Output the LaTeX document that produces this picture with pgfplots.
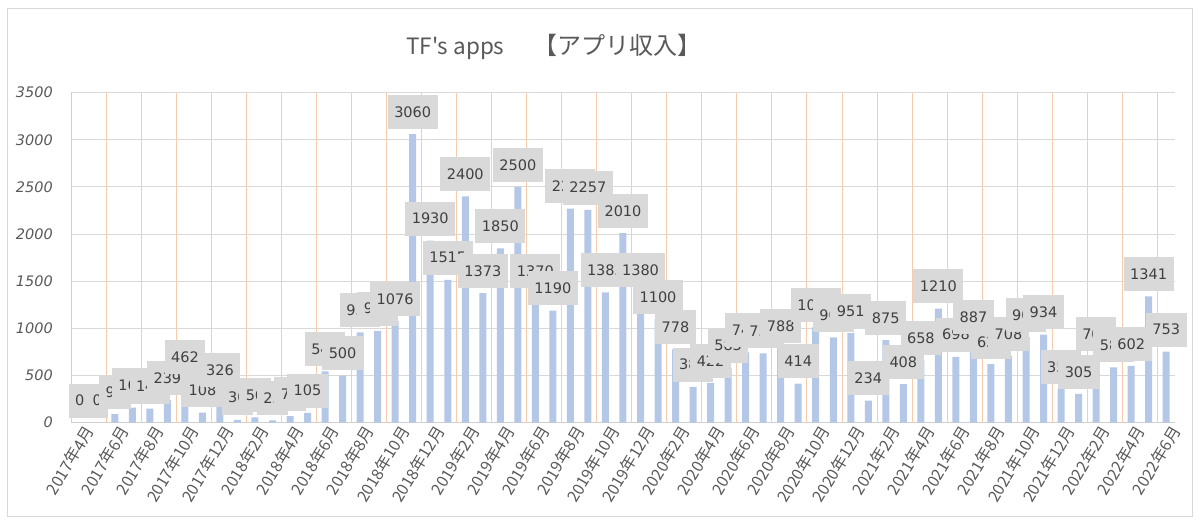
\documentclass[border=0pt]{standalone}
\usepackage{pgfplots}
\pgfplotsset{compat=1.18}
\usepackage{fontspec}
\newfontfamily\jp{Noto Sans CJK JP}
\newfontfamily\dv{DejaVu Sans}
\definecolor{barblue}{HTML}{B4C7E7}
\definecolor{labelgray}{HTML}{D9D9D9}
\definecolor{labeltext}{HTML}{404040}
\definecolor{gridgray}{HTML}{D9D9D9}
\definecolor{axisgray}{HTML}{D0D0D0}
\definecolor{orangeline}{HTML}{F8CBAD}
\definecolor{ticklabelgray}{HTML}{595959}
\definecolor{framegray}{HTML}{D9D9D9}
\pgfkeys{/pgf/number format/.cd,1000 sep={},assume math mode=true}
\begin{document}
\begin{tikzpicture}
\useasboundingbox (0,0) rectangle (1200bp,523bp);
\draw[color=framegray, line width=1bp] (7bp,6bp) rectangle (1192bp,514bp);
\node[anchor=west, inner sep=0pt, text=ticklabelgray, font=\jp\fontsize{22.5bp}{26bp}\selectfont] at (406bp,476bp) {TF's apps\hspace{29bp}{\fontsize{24bp}{28bp}\selectfont 【アプリ収入】}};
\begin{axis}[
  at={(71bp,100.3bp)}, anchor=south west,
  width=1104bp, height=330bp, scale only axis,
  clip=false,
  xmin=-0.5, xmax=62.5, ymin=0, ymax=3500,
  ytick={0,500,...,3500},
  ymajorgrids,
  major grid style={color=gridgray, line width=1bp},
  axis lines=left,
  axis line style={-, color=axisgray, line width=1bp},
  major tick length=0pt,
  xtick={0,2,...,62},
  xticklabels={2017年4月,2017年6月,2017年8月,2017年10月,2017年12月,
    2018年2月,2018年4月,2018年6月,2018年8月,2018年10月,2018年12月,
    2019年2月,2019年4月,2019年6月,2019年8月,2019年10月,2019年12月,
    2020年2月,2020年4月,2020年6月,2020年8月,2020年10月,2020年12月,
    2021年2月,2021年4月,2021年6月,2021年8月,2021年10月,2021年12月,
    2022年2月,2022年4月,2022年6月},
  extra x ticks={1.5,3.5,...,61.5},
  extra x tick labels={},
  extra x tick style={grid=major, major grid style={color=orangeline, line width=1bp}},
  xticklabel style={rotate=59, anchor=east, inner sep=0pt, yshift=-11bp, xshift=1bp,
    font=\jp\fontsize{16bp}{18bp}\selectfont, text=ticklabelgray},
  yticklabel style={anchor=east, inner sep=0pt, xshift=-18bp,
    font=\dv\itshape\fontsize{14.5bp}{17bp}\selectfont, text=ticklabelgray},
  ybar, bar width=7bp,
  nodes near coords,
  every node near coord/.append style={font=\dv\fontsize{14.5bp}{17bp}\selectfont,
    text=labeltext, fill=labelgray, inner xsep=6.5bp, inner ysep=0pt,
    minimum height=34bp, anchor=south, yshift=5bp},
]
\addplot[fill=barblue, draw=none] table[x=i, y=v] {
i v
0 0
1 0
2 90
3 160
4 148
5 239
6 462
7 108
8 326
9 30
10 56
11 25
12 71
13 105
14 545
15 500
16 958
17 975
18 1076
19 3060
20 1930
21 1515
22 2400
23 1373
24 1850
25 2500
26 1370
27 1190
28 2270
29 2257
30 1383
31 2010
32 1380
33 1100
34 778
35 380
36 422
37 583
38 745
39 735
40 788
41 414
42 1010
43 905
44 951
45 234
46 875
47 408
48 658
49 1210
50 698
51 887
52 620
53 708
54 908
55 934
56 355
57 305
58 705
59 587
60 602
61 1341
62 753
};
\end{axis}
\end{tikzpicture}
\end{document}
